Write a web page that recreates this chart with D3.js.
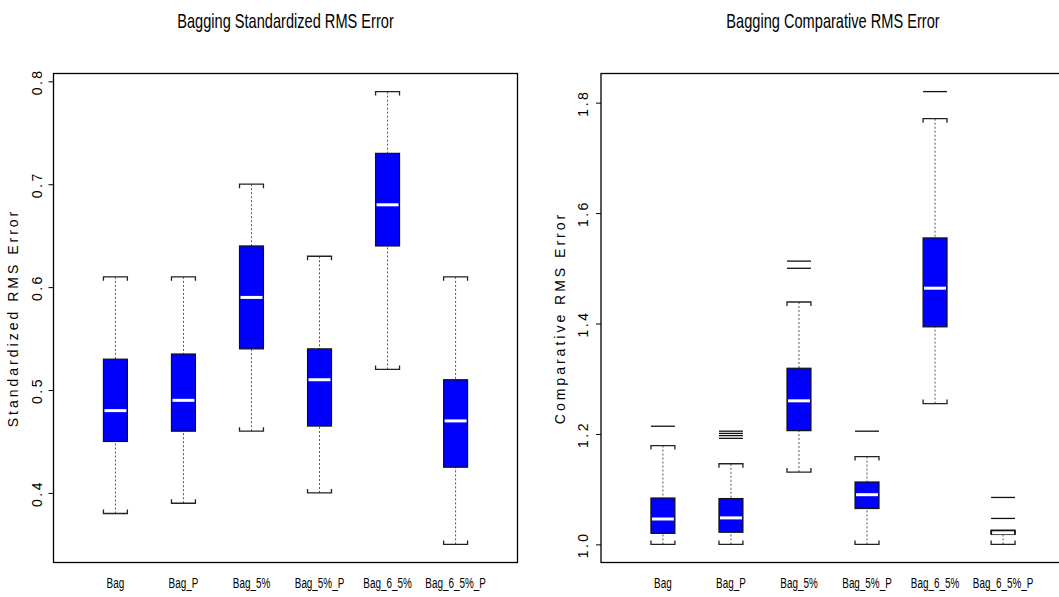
<!DOCTYPE html>
<html>
<head>
<meta charset="utf-8">
<script src="https://cdn.jsdelivr.net/npm/d3@7"></script>
<style>
  body { margin: 0; background: #fff; }
  .title, .xlab { font-family: "Liberation Sans", Arial, sans-serif; }
  .ylab, .tick text { font-family: "Liberation Sans", Arial, sans-serif; }
</style>
</head>
<body>
<svg id="chart"></svg>
<script>
const width = 1059,
  height = 597;

const categories = ["Bag", "Bag_P", "Bag_5%", "Bag_5%_P", "Bag_6_5%", "Bag_6_5%_P"];

// left panel: Standardized RMS Error
const stdLow = [0.38, 0.39, 0.46, 0.4, 0.52, 0.35];
const stdQ1 = [0.45, 0.46, 0.54, 0.465, 0.64, 0.425];
const stdMedian = [0.48, 0.49, 0.59, 0.51, 0.68, 0.47];
const stdQ3 = [0.53, 0.535, 0.64, 0.54, 0.73, 0.51];
const stdHigh = [0.61, 0.61, 0.7, 0.63, 0.79, 0.61];
const stdOutliers = [[], [], [], [], [], []];
const stdTicks = [0.4, 0.5, 0.6, 0.7, 0.8];

// right panel: Comparative RMS Error
const cmpLow = [1.0, 1.0, 1.131, 1.0, 1.255, 1.0];
const cmpQ1 = [1.02, 1.022, 1.206, 1.065, 1.394, 1.018];
const cmpMedian = [1.046, 1.048, 1.26, 1.09, 1.464, 1.021];
const cmpQ3 = [1.084, 1.083, 1.319, 1.113, 1.555, 1.025];
const cmpHigh = [1.179, 1.146, 1.439, 1.159, 1.771, 1.026];
const cmpOutliers = [
  [1.214],
  [1.192, 1.197, 1.201, 1.205],
  [1.5, 1.513],
  [1.205],
  [1.82],
  [1.047, 1.085]
];
const cmpTicks = [1.0, 1.2, 1.4, 1.6, 1.8];

const svg = d3.select("#chart").attr("width", width).attr("height", height);

function panel(opts) {
  const left = opts.left,
    top = 73.5,
    bottom = 562.5,
    w = 464;

  const g = svg.append("g");

  const xScale = d3.scaleLinear().domain([0.09, 6.91]).range([left, left + w]);
  const ext = opts.dataMax - opts.dataMin;
  const yScale = d3
    .scaleLinear()
    .domain([opts.dataMin - ext * 0.04, opts.dataMax + ext * 0.04])
    .range([bottom, top]);

  const boxW = xScale(1.352) - xScale(1);

  g.append("text")
    .attr("class", "title")
    .attr("transform", "translate(" + (left + w / 2) + ",28) scale(0.73,1)")
    .attr("text-anchor", "middle")
    .attr("font-size", 20)
    .text(opts.title);

  // frame
  g.append("rect")
    .attr("x", left)
    .attr("y", top)
    .attr("width", w)
    .attr("height", bottom - top)
    .attr("fill", "none")
    .attr("stroke", "#000")
    .attr("stroke-width", 1.3);

  const yAxis = d3
    .axisLeft(yScale)
    .tickValues(opts.ticks)
    .tickSize(5)
    .tickFormat(d3.format(".1f"));

  const ax = g
    .append("g")
    .attr("transform", "translate(" + left + ",0)")
    .call(yAxis);
  ax.select(".domain").remove();
  ax.selectAll(".tick line").attr("stroke", "#000");
  ax.selectAll(".tick text")
    .attr("font-size", 14)
    .attr("letter-spacing", 2.5)
    .attr("fill", "#000")
    .attr("x", 0)
    .attr("dy", 0)
    .attr("text-anchor", "middle")
    .attr("transform", "translate(" + (opts.tickLabelX - left) + ",0) rotate(-90)");

  g.append("text")
    .attr("class", "ylab")
    .attr("transform", "translate(" + opts.titleX + "," + (top + bottom) / 2 + ") rotate(-90)")
    .attr("text-anchor", "middle")
    .attr("font-size", 14)
    .attr("letter-spacing", 3)
    .text(opts.ylab);

  categories.forEach((c, i) => {
    const cx = xScale(i + 1);
    const x0 = cx - boxW / 2,
      x1 = cx + boxW / 2;

    g.append("text")
      .attr("class", "xlab")
      .attr("transform", "translate(" + cx + ",588) scale(0.66,1)")
      .attr("text-anchor", "middle")
      .attr("font-size", 15)
      .text(c);

    // whiskers
    [[opts.high[i], opts.q3[i]], [opts.low[i], opts.q1[i]]].forEach((p) => {
      g.append("line")
        .attr("x1", cx)
        .attr("x2", cx)
        .attr("y1", yScale(p[0]))
        .attr("y2", yScale(p[1]))
        .attr("stroke", "#555")
        .attr("stroke-dasharray", "2,2");
    });

    // caps with bracket ends
    const hy = yScale(opts.high[i]),
      ly = yScale(opts.low[i]);
    g.append("path")
      .attr("d", "M" + x0 + "," + (hy + 4) + "V" + hy + "H" + x1 + "V" + (hy + 4))
      .attr("fill", "none")
      .attr("stroke", "#222")
      .attr("stroke-width", 1.3);
    g.append("path")
      .attr("d", "M" + x0 + "," + (ly - 4) + "V" + ly + "H" + x1 + "V" + (ly - 4))
      .attr("fill", "none")
      .attr("stroke", "#222")
      .attr("stroke-width", 1.3);

    // box
    g.append("rect")
      .attr("x", x0)
      .attr("y", yScale(opts.q3[i]))
      .attr("width", boxW)
      .attr("height", yScale(opts.q1[i]) - yScale(opts.q3[i]))
      .attr("fill", "#0000ff")
      .attr("stroke", "#111")
      .attr("stroke-width", 1.2);

    g.append("line")
      .attr("x1", x0 + 1)
      .attr("x2", x1 - 1)
      .attr("y1", yScale(opts.median[i]))
      .attr("y2", yScale(opts.median[i]))
      .attr("stroke", "#fff")
      .attr("stroke-width", 3);

    opts.outliers[i].forEach((o) => {
      g.append("line")
        .attr("x1", x0)
        .attr("x2", x1)
        .attr("y1", yScale(o))
        .attr("y2", yScale(o))
        .attr("stroke", "#111")
        .attr("stroke-width", 1.3);
    });
  });
}

panel({
  left: 53.5,
  title: "Bagging Standardized RMS Error",
  ylab: "Standardized RMS Error",
  titleX: 18,
  tickLabelX: 42,
  dataMin: 0.35,
  dataMax: 0.79,
  ticks: stdTicks,
  low: stdLow,
  q1: stdQ1,
  median: stdMedian,
  q3: stdQ3,
  high: stdHigh,
  outliers: stdOutliers
});

panel({
  left: 601,
  title: "Bagging Comparative RMS Error",
  ylab: "Comparative RMS Error",
  titleX: 565,
  tickLabelX: 588,
  dataMin: 1.0,
  dataMax: 1.82,
  ticks: cmpTicks,
  low: cmpLow,
  q1: cmpQ1,
  median: cmpMedian,
  q3: cmpQ3,
  high: cmpHigh,
  outliers: cmpOutliers
});
</script>
</body>
</html>
